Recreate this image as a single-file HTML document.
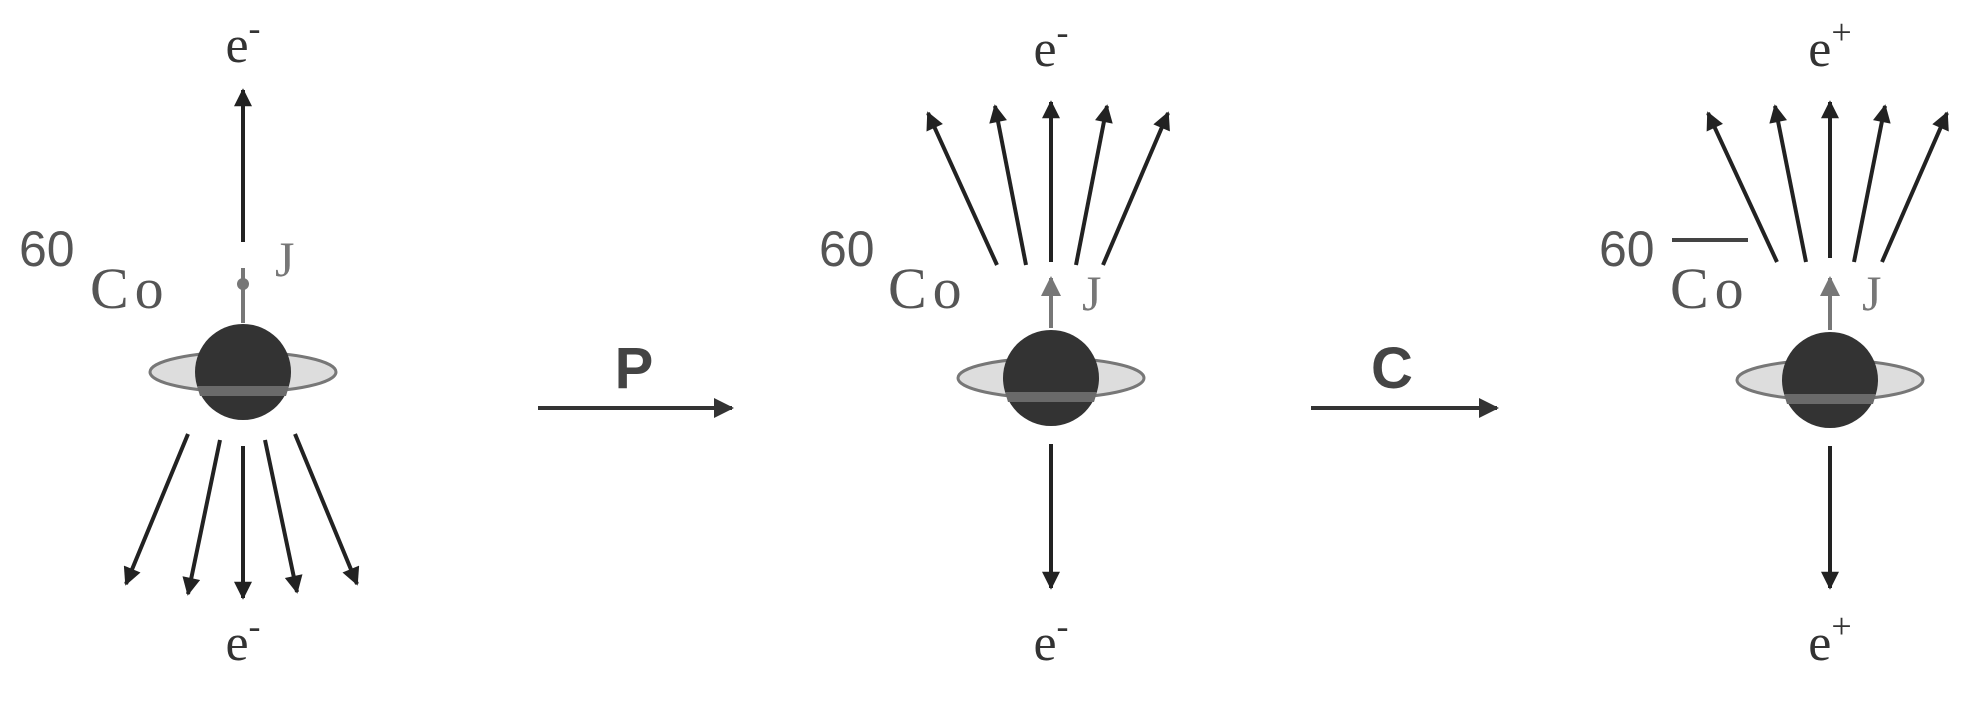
<!DOCTYPE html>
<html><head><meta charset="utf-8"><style>
html,body{margin:0;padding:0;background:#fff;}
svg{display:block;}
text{font-family:"Liberation Sans",sans-serif;}
.sf{font-family:"Liberation Serif",serif;}
</style></head><body>
<svg width="1962" height="706" viewBox="0 0 1962 706">
<defs>
<marker id="ah" viewBox="0 0 10 10" refX="9" refY="5" markerWidth="5" markerHeight="4.5" orient="auto"><path d="M0,0 L10,5 L0,10 z" fill="#222"/></marker>
<marker id="ahg" viewBox="0 0 10 10" refX="9" refY="5" markerWidth="5" markerHeight="5" orient="auto"><path d="M0,0 L10,5 L0,10 z" fill="#777"/></marker>
<marker id="ahb" viewBox="0 0 10 10" refX="9" refY="5" markerWidth="6" markerHeight="5" orient="auto"><path d="M0,0 L10,5 L0,10 z" fill="#333"/></marker>
<g id="nuc">
<ellipse cx="0" cy="0" rx="93" ry="20" fill="#ddd" stroke="#777" stroke-width="3"/>
<circle cx="0" cy="0" r="48" fill="#333"/>
<path d="M-46,14 L46,14 L43,24 L-43,24 z" fill="#6a6a6a"/>
</g>
</defs>

<g>
<text class="sf" x="243" y="62" font-size="52" fill="#333" text-anchor="middle">e<tspan dy="-22" font-size="36">-</tspan></text>
<line x1="243" y1="242" x2="243" y2="90" stroke="#222" stroke-width="4" marker-end="url(#ah)"/>
<line x1="243" y1="323" x2="243" y2="268" stroke="#777" stroke-width="4"/>
<circle cx="243" cy="284" r="6" fill="#777"/>
<text class="sf" x="275" y="276" font-size="50" fill="#777">J</text>
<text x="19" y="266" font-size="50" fill="#555">60</text>
<text class="sf" x="90" y="308" font-size="58" letter-spacing="6" fill="#555">Co</text>
<use href="#nuc" x="243" y="372"/>
<g stroke="#222" stroke-width="4" marker-end="url(#ah)">
<line x1="188" y1="434" x2="126" y2="584"/>
<line x1="220" y1="440" x2="188" y2="594"/>
<line x1="243" y1="446" x2="243" y2="598"/>
<line x1="265" y1="440" x2="297" y2="592"/>
<line x1="295" y1="434" x2="357" y2="584"/>
</g>
<text class="sf" x="243" y="660" font-size="52" fill="#333" text-anchor="middle">e<tspan dy="-22" font-size="36">-</tspan></text>
</g>

<line x1="538" y1="408" x2="732" y2="408" stroke="#333" stroke-width="4" marker-end="url(#ahb)"/>
<text x="634" y="388" font-size="58" font-weight="bold" fill="#444" text-anchor="middle">P</text>

<g>
<text class="sf" x="1051" y="66" font-size="52" fill="#333" text-anchor="middle">e<tspan dy="-22" font-size="36">-</tspan></text>
<g stroke="#222" stroke-width="4" marker-end="url(#ah)">
<line x1="997" y1="265" x2="928" y2="113"/>
<line x1="1026" y1="265" x2="995" y2="106"/>
<line x1="1051" y1="262" x2="1051" y2="102"/>
<line x1="1076" y1="265" x2="1107" y2="106"/>
<line x1="1103" y1="265" x2="1168" y2="113"/>
</g>
<line x1="1051" y1="328" x2="1051" y2="278" stroke="#777" stroke-width="4" marker-end="url(#ahg)"/>
<text class="sf" x="1082" y="310" font-size="50" fill="#777">J</text>
<text x="819" y="266" font-size="50" fill="#555">60</text>
<text class="sf" x="888" y="308" font-size="58" letter-spacing="6" fill="#555">Co</text>
<use href="#nuc" x="1051" y="378"/>
<line x1="1051" y1="444" x2="1051" y2="588" stroke="#222" stroke-width="4" marker-end="url(#ah)"/>
<text class="sf" x="1051" y="660" font-size="52" fill="#333" text-anchor="middle">e<tspan dy="-22" font-size="36">-</tspan></text>
</g>

<line x1="1311" y1="408" x2="1497" y2="408" stroke="#333" stroke-width="4" marker-end="url(#ahb)"/>
<text x="1392" y="388" font-size="58" font-weight="bold" fill="#444" text-anchor="middle">C</text>

<g>
<text class="sf" x="1830" y="66" font-size="52" fill="#333" text-anchor="middle">e<tspan dy="-22" font-size="36">+</tspan></text>
<g stroke="#222" stroke-width="4" marker-end="url(#ah)">
<line x1="1777" y1="262" x2="1708" y2="113"/>
<line x1="1806" y1="262" x2="1775" y2="106"/>
<line x1="1830" y1="258" x2="1830" y2="102"/>
<line x1="1854" y1="262" x2="1885" y2="106"/>
<line x1="1882" y1="262" x2="1947" y2="113"/>
</g>
<line x1="1830" y1="330" x2="1830" y2="278" stroke="#777" stroke-width="4" marker-end="url(#ahg)"/>
<text class="sf" x="1862" y="310" font-size="50" fill="#777">J</text>
<text x="1599" y="266" font-size="50" fill="#555">60</text>
<line x1="1672" y1="240" x2="1748" y2="240" stroke="#444" stroke-width="4"/>
<text class="sf" x="1670" y="308" font-size="58" letter-spacing="6" fill="#555">Co</text>
<use href="#nuc" x="1830" y="380"/>
<line x1="1830" y1="446" x2="1830" y2="588" stroke="#222" stroke-width="4" marker-end="url(#ah)"/>
<text class="sf" x="1830" y="660" font-size="52" fill="#333" text-anchor="middle">e<tspan dy="-22" font-size="36">+</tspan></text>
</g>
</svg>
</body></html>
